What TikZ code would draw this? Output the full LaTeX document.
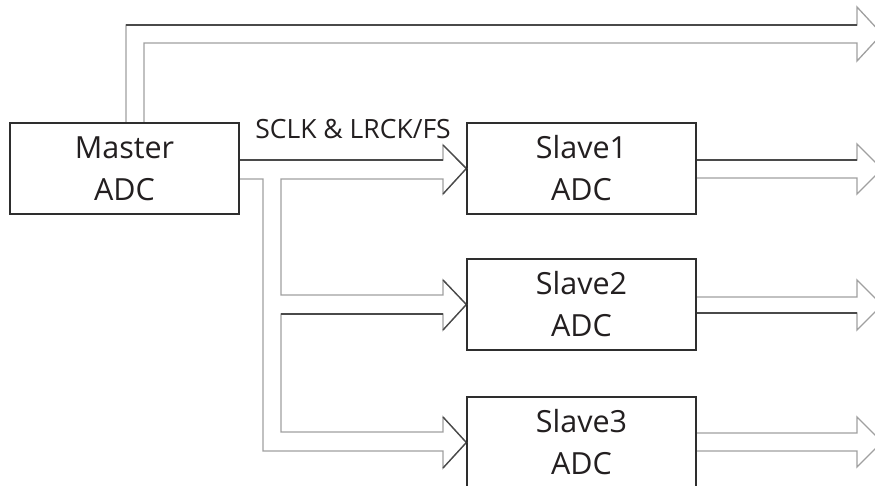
\documentclass[tikz,border=0pt]{standalone}
\usepackage{fontspec}
\setmainfont{Open Sans}
\definecolor{boxline}{HTML}{2E2E2E}
\definecolor{arrdark}{HTML}{4A4A4A}
\definecolor{arrlight}{HTML}{A0A0A0}
\definecolor{txt}{HTML}{231F20}
\begin{document}
\begin{tikzpicture}[x=1pt,y=-1pt,
  adcbox/.style={draw=boxline,line width=1.3pt,minimum width=229pt,minimum height=91pt,
    align=center,inner sep=0pt,text=txt,font=\fontsize{30.5}{42}\selectfont},
  hollow/.style={draw=arrlight,line width=1.3pt,line join=miter},
  darkedge/.style={draw=arrdark,line width=1.3pt}]
\useasboundingbox (0,0) rectangle (875,485);
\fill[white] (0,0) rectangle (875,485);

% boxes
\node[adcbox] (m)  at (124.5,168.5) {Master\\ADC};
\node[adcbox] (s1) at (581.5,168.5) {Slave1\\ADC};
\node[adcbox] (s2) at (581.5,304.5) {Slave2\\ADC};
\node[adcbox] (s3) at (581.5,442.5) {Slave3\\ADC};

% label
\node[anchor=base,inner sep=0pt,text=txt,font=\fontsize{26.5}{30}\selectfont] (lbl) at (353,138.5) {SCLK \& LRCK/FS};

% free ends of the outgoing arrows
\coordinate (o0) at (882,34);
\coordinate (o1) at (882,169);
\coordinate (o2) at (882,305);
\coordinate (o3) at (882,442);

% top arrow from master
\draw[hollow] (m.north -| 126,0) -- (126,25) -- (857,25) -- (857,7) -- (o0)
  -- (857,61) -- (857,43) -- (144,43) -- (m.north -| 144,0);
\draw[darkedge] (126,25) -- (857,25);

% bus from master to slaves
\draw[hollow] (m.east |- 0,160) -- (443,160) -- (443,145) -- (s1.west)
  -- (443,194) -- (443,179) -- (281,179) -- (281,295) -- (443,295)
  -- (443,280) -- (s2.west) -- (443,330) -- (443,314) -- (281,314)
  -- (281,432) -- (443,432) -- (443,417) -- (s3.west) -- (443,468)
  -- (443,451) -- (263,451) -- (263,179) -- (m.east |- 0,179);
\draw[darkedge] (m.east |- 0,160) -- (443,160);
\draw[darkedge] (281,314) -- (443,314);
\draw[darkedge] (443,145) -- (s1.west) -- (443,194);
\draw[darkedge] (443,280) -- (s2.west) -- (443,330);
\draw[darkedge] (443,417) -- (s3.west) -- (443,468);

% outgoing arrows of the slaves
\draw[hollow] (s1.east |- 0,160) -- (857,160) -- (857,144) -- (o1)
  -- (857,194) -- (857,178) -- (s1.east |- 0,178);
\draw[darkedge] (s1.east |- 0,160) -- (857,160);
\draw[hollow] (s2.east |- 0,297) -- (857,297) -- (857,280) -- (o2)
  -- (857,330) -- (857,313) -- (s2.east |- 0,313);
\draw[darkedge] (s2.east |- 0,313) -- (857,313);
\draw[hollow] (s3.east |- 0,433) -- (857,433) -- (857,417) -- (o3)
  -- (857,467) -- (857,451) -- (s3.east |- 0,451);

% redraw box outlines on top
\draw[boxline,line width=1.3pt] (m.south west) rectangle (m.north east);
\draw[boxline,line width=1.3pt] (s1.south west) rectangle (s1.north east);
\draw[boxline,line width=1.3pt] (s2.south west) rectangle (s2.north east);
\draw[boxline,line width=1.3pt] (s3.south west) rectangle (s3.north east);
\end{tikzpicture}
\end{document}
